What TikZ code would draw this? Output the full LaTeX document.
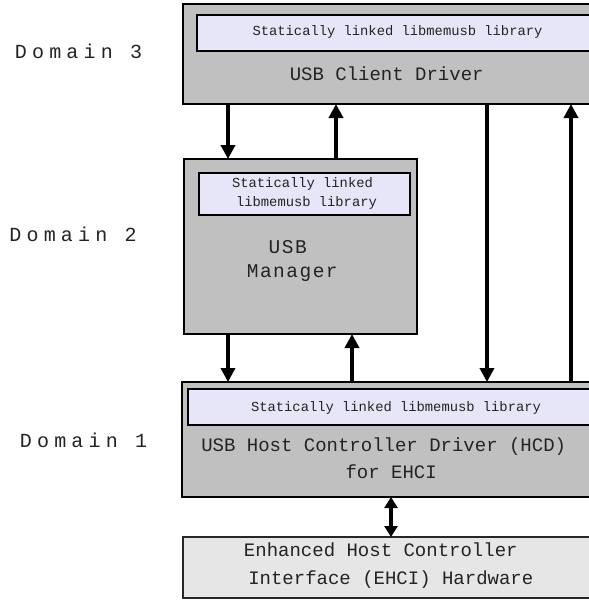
\documentclass[tikz,border=0pt]{standalone}
\usepackage{fontspec}
\newfontfamily\fmain{Liberation Mono}
\newfontfamily\fdom[LetterSpace=26]{Liberation Mono}
\newfontfamily\fmgr[LetterSpace=7.6]{Liberation Mono}
\usetikzlibrary{arrows.meta}
\definecolor{boxgray}{RGB}{192,192,192}
\definecolor{libfill}{RGB}{230,230,248}
\definecolor{hwfill}{RGB}{230,230,230}
\definecolor{txt}{RGB}{35,35,35}
\tikzset{
  bigbox/.style={draw=black, line width=2.6pt, fill=boxgray, rectangle, inner sep=0pt, outer sep=0pt},
  libbox/.style={draw=black, line width=2.2pt, fill=libfill, rectangle, inner sep=0pt, outer sep=0pt},
  hwbox/.style={draw=black!85, line width=1.8pt, fill=hwfill, rectangle, inner sep=0pt, outer sep=0pt},
  maintext/.style={text=txt, inner sep=0pt, anchor=base, font=\fmain\fontsize{19}{22}\selectfont},
  libtext/.style={text=txt, inner sep=0pt, anchor=base, font=\fmain\fontsize{13.8}{16}\selectfont},
  domtext/.style={text=txt, inner sep=0pt, anchor=base, font=\fdom\fontsize{20}{24}\selectfont},
  mgrtext/.style={text=txt, inner sep=0pt, anchor=base, font=\fmgr\fontsize{19.5}{22}\selectfont},
  arr/.style={line width=3.5pt, -{Triangle[length=14pt,width=14pt]}},
  dblarr/.style={line width=3.5pt, {Triangle[length=11pt,width=13pt]}-{Triangle[length=11pt,width=13pt]}}
}
\begin{document}
\begin{tikzpicture}[x=1pt,y=-1pt]
\useasboundingbox (0,0) rectangle (589,600);
\clip (0,0) rectangle (589,600);

% Domain labels
\node[domtext] (dom3) at (78.5,58) {Domain 3};
\node[domtext] (dom2) at (73,241.5) {Domain 2};
\node[domtext] (dom1) at (83.5,447.5) {Domain 1};

% Domain 3: USB Client Driver
\node[bigbox, minimum width=420pt, minimum height=100pt] (d3) at (393,54) {};
\node[libbox, minimum width=406pt, minimum height=36pt] (lib3) at (400,33) {};
\node[libtext] (lib3t) at (397.5,35.5) {Statically linked libmemusb library};
\node[maintext] (cd) at (386.7,80.5) {USB Client Driver};

% Domain 2: USB Manager
\node[bigbox, minimum width=233pt, minimum height=175pt] (mid) at (300.5,246.5) {};
\node[libbox, minimum width=211pt, minimum height=42pt] (lib2) at (304.5,194) {};
\node[libtext] (lib2a) at (302.5,187) {Statically linked};
\node[libtext] (lib2b) at (306.5,206.3) {libmemusb library};
\node[mgrtext] (mgra) at (287.7,253.3) {USB};
\node[mgrtext] (mgrb) at (292.3,277) {Manager};

% Domain 1: HCD
\node[bigbox, minimum width=421pt, minimum height=115pt] (hcd) at (392.5,439.5) {};
\node[libbox, minimum width=415pt, minimum height=36pt] (lib1) at (395.5,407) {};
\node[libtext] (lib1t) at (396,411.7) {Statically linked libmemusb library};
\node[maintext] (hcda) at (383.7,451.7) {USB Host Controller Driver (HCD)};
\node[maintext] (hcdb) at (391.2,478.3) {for EHCI};

% Hardware
\node[hwbox, minimum width=420pt, minimum height=61pt] (hw) at (393,567.5) {};
\node[maintext] (hwa) at (380.8,556.7) {Enhanced Host Controller};
\node[maintext] (hwb) at (390.8,584) {Interface (EHCI) Hardware};

% arrow x positions
\coordinate (c1) at (228,0);
\coordinate (c2) at (336,0);
\coordinate (c3) at (487,0);
\coordinate (c4) at (571,0);
\coordinate (c5) at (228,0);
\coordinate (c6) at (352,0);
\coordinate (c7) at (391,0);

\draw[arr] (d3.south -| c1) -- (mid.north -| c1);
\draw[arr] (mid.north -| c2) -- (d3.south -| c2);
\draw[arr] (d3.south -| c3) -- (hcd.north -| c3);
\draw[arr] (hcd.north -| c4) -- (d3.south -| c4);
\draw[arr] (mid.south -| c5) -- (hcd.north -| c5);
\draw[arr] (hcd.north -| c6) -- (mid.south -| c6);
\draw[dblarr] (hcd.south -| c7) -- (hw.north -| c7);
\end{tikzpicture}
\end{document}
